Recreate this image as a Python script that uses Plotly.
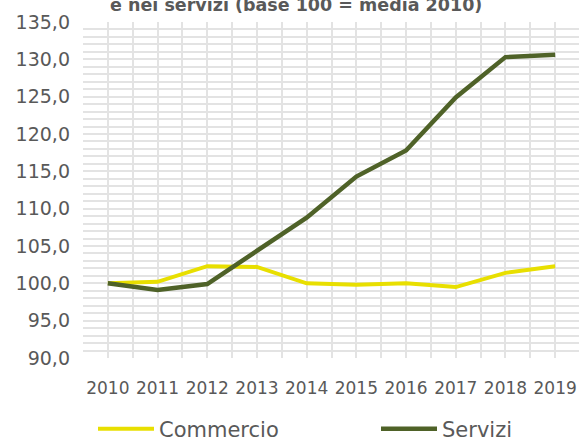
import plotly.graph_objects as go

years = ["2010", "2011", "2012", "2013", "2014", "2015", "2016", "2017", "2018", "2019"]
commercio = [100.0, 100.2, 102.3, 102.2, 100.0, 99.8, 100.0, 99.5, 101.4, 102.3]
servizi = [100.0, 99.1, 99.9, 104.3, 108.8, 114.3, 117.8, 124.9, 130.3, 130.6]
title_text = "e nei servizi (base 100 = media 2010)"

FONT = "DejaVu Sans"
TXT = "#595959"
GRID = "#e3e3e3"

x = list(range(len(years)))

fig = go.Figure()
fig.add_trace(go.Scatter(x=x, y=commercio, mode="lines", name="Commercio",
                         line=dict(color="#E8DF00", width=4), legend="legend"))
fig.add_trace(go.Scatter(x=x, y=servizi, mode="lines", name="Servizi",
                         line=dict(color="#4F6228", width=4.5), legend="legend2"))

leg_common = dict(orientation="h", xref="container", yref="container",
                  xanchor="left", y=1 - 429 / 441, yanchor="middle",
                  font=dict(size=21, color=TXT), itemwidth=56, bgcolor="rgba(0,0,0,0)")

fig.update_layout(
    width=579, height=441,
    margin=dict(l=83, r=0, t=22, b=83, autoexpand=False),
    paper_bgcolor="white", plot_bgcolor="white",
    separators=", ",
    font=dict(family=FONT, color=TXT, size=17),
    showlegend=True,
    legend=dict(x=93 / 579, **leg_common),
    legend2=dict(x=376 / 579, **leg_common),
    annotations=[dict(text="<b>" + title_text + "</b>", xref="paper", yref="paper",
                      x=(296 - 83) / 496, y=1, xanchor="center", yanchor="bottom",
                      yshift=5, showarrow=False, font=dict(size=17.5, color=TXT, family=FONT))],
)
fig.update_xaxes(range=[-0.5, 9.48], tickmode="array", tickvals=x, ticktext=years,
                 automargin=False,
                 showgrid=True, gridcolor=GRID, gridwidth=1.5, zeroline=False,
                 showline=False, ticks="", ticklabelstandoff=18,
                 tickfont=dict(size=17, color=TXT),
                 minor=dict(dtick=0.5, tick0=-0.5, showgrid=True, gridcolor=GRID, gridwidth=1.5))
fig.update_yaxes(range=[90, 135], dtick=5, tick0=90, tickformat=".1f",
                 automargin=False,
                 showgrid=True, gridcolor=GRID, gridwidth=1.5, zeroline=False,
                 showline=False, ticks="", ticklabelstandoff=12,
                 tickfont=dict(size=19, color=TXT),
                 minor=dict(dtick=1, showgrid=True, gridcolor=GRID, gridwidth=1.5))

fig.write_html("out.html", config={"displayModeBar": False},
               post_script="document.body.style.margin='0';document.body.style.overflow='hidden';")
